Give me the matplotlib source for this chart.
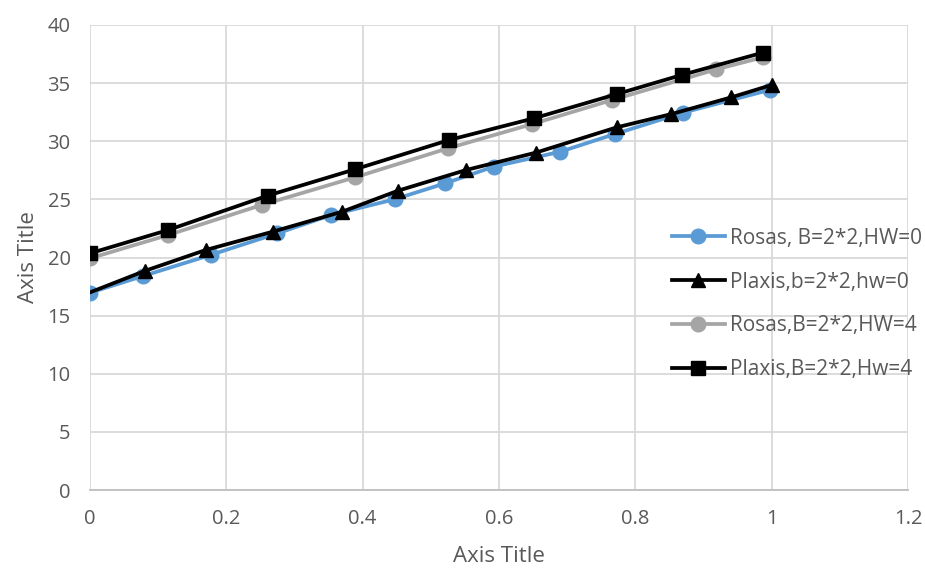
import numpy as np
import matplotlib.pyplot as plt

# values
rosas_hw0_x = [0, 0.078, 0.177, 0.275, 0.354, 0.447, 0.521, 0.592, 0.690, 0.770, 0.870, 0.997]
rosas_hw0_y = [16.97, 18.41, 20.22, 22.08, 23.66, 25.01, 26.38, 27.81, 29.10, 30.62, 32.46, 34.41]

plaxis_hw0_x = [0, 0.081, 0.170, 0.268, 0.370, 0.452, 0.552, 0.654, 0.773, 0.853, 0.941, 1.0]
plaxis_hw0_y = [17.0, 18.86, 20.65, 22.22, 23.94, 25.75, 27.53, 29.02, 31.2, 32.34, 33.78, 34.84]

rosas_hw4_x = [0, 0.115, 0.252, 0.389, 0.525, 0.649, 0.766, 0.919, 0.987]
rosas_hw4_y = [19.93, 21.94, 24.52, 26.9, 29.39, 31.48, 33.55, 36.19, 37.22]

plaxis_hw4_x = [0, 0.115, 0.261, 0.389, 0.527, 0.651, 0.773, 0.868, 0.987]
plaxis_hw4_y = [20.36, 22.37, 25.33, 27.59, 30.11, 31.97, 34.06, 35.70, 37.62]

labels = ['Rosas, B=2*2,HW=0', 'Plaxis,b=2*2,hw=0', 'Rosas,B=2*2,HW=4', 'Plaxis,B=2*2,Hw=4']

TXT = '#595959'
GRID = '#D9D9D9'

plt.rcParams['font.family'] = ['Open Sans', 'DejaVu Sans']

fig = plt.figure(figsize=(9.25, 5.68), dpi=100)
ax = fig.add_axes([0.0973, 0.1373, 0.8843, 0.8187])

lw = 2.7
ms = 10.5
ax.plot(rosas_hw0_x, rosas_hw0_y, color='#5B9BD5', lw=lw, marker='o', ms=ms, label=labels[0], zorder=3)
ax.plot(plaxis_hw0_x, plaxis_hw0_y, color='black', lw=lw, marker='^', ms=ms,
        markevery=list(range(1, len(plaxis_hw0_x))), label=labels[1], zorder=4)
ax.plot(rosas_hw4_x, rosas_hw4_y, color='#A5A5A5', lw=lw, marker='o', ms=ms, label=labels[2], zorder=3)
ax.plot(plaxis_hw4_x, plaxis_hw4_y, color='black', lw=lw, marker='s', ms=ms, label=labels[3], zorder=4)

ax.set_xlim(0, 1.2)
ax.set_ylim(0, 40)
ax.set_xticks(np.arange(0, 1.21, 0.2))
ax.set_xticklabels(['0', '0.2', '0.4', '0.6', '0.8', '1', '1.2'])
ax.set_yticks(np.arange(0, 41, 5))

ax.grid(True, color=GRID, lw=1.3)
ax.set_axisbelow(True)
for s in ax.spines.values():
    s.set_visible(False)
ax.spines['bottom'].set_visible(True)
ax.spines['bottom'].set_color('#BFBFBF')
ax.spines['bottom'].set_linewidth(1.3)

ax.tick_params(length=0, labelsize=14.5, labelcolor=TXT)
ax.tick_params(axis='y', pad=14)
ax.tick_params(axis='x', pad=14)

ax.set_xlabel('Axis Title', fontsize=16, color=TXT, labelpad=12)
ax.set_ylabel('Axis Title', fontsize=16, color=TXT, labelpad=6)

ax.legend(loc='center left', bbox_to_anchor=(0.688, 0.40), frameon=False, fontsize=15,
          labelcolor=TXT, handlelength=2.55, handletextpad=0.25, labelspacing=1.1)

fig.savefig('out.png', dpi=100)
